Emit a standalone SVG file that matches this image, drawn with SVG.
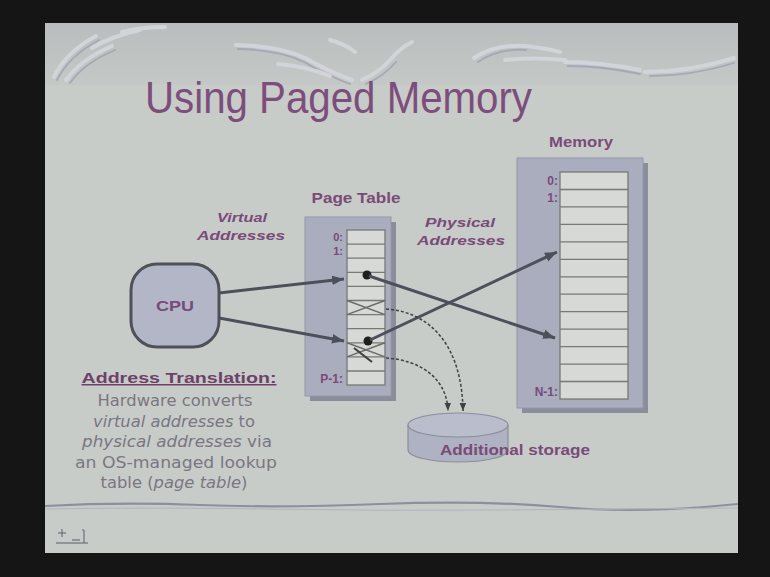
<svg xmlns="http://www.w3.org/2000/svg" width="770" height="577" viewBox="0 0 770 577">
<defs>
<style>
.lbl{font-family:"Liberation Sans",Arial,sans-serif;font-weight:bold;fill:#7a4a78}
.it{font-style:italic}
.body{font-family:"DejaVu Sans","Liberation Sans",sans-serif;font-size:15px;fill:#7a7682}
.cell{fill:#d6d9d6;stroke:#757a74;stroke-width:1.3}
.row{stroke:#757a74;stroke-width:1.3}
.box{fill:#a9adbe;stroke:#9498a8;stroke-width:1}
.shadow{fill:#8a8e9a}
.conn{stroke:#4c505a;stroke-width:3;fill:none}
.dash{stroke:#3e423e;stroke-width:1.5;fill:none;stroke-dasharray:3 2}
.xx{stroke:#686c66;stroke-width:1.5}
.sw{fill:none;stroke:#d2d4d9;stroke-width:4;stroke-linecap:round}
.swd{fill:none;stroke:#a6a9b5;stroke-width:1.8;stroke-linecap:round}
</style>
<marker id="ah" viewBox="0 0 10 8" refX="10" refY="4" markerWidth="12" markerHeight="10" markerUnits="userSpaceOnUse" orient="auto">
<path d="M0,0 L10,4 L0,8 z" fill="#4c505a"/>
</marker>
<marker id="ahs" viewBox="0 0 10 8" refX="10" refY="4" markerWidth="8" markerHeight="7" markerUnits="userSpaceOnUse" orient="auto">
<path d="M0,0 L10,4 L0,8 z" fill="#3e423e"/>
</marker>
<linearGradient id="band" x1="0" y1="0" x2="0" y2="1">
<stop offset="0" stop-color="#b9bdbd"/>
<stop offset="1" stop-color="#c4c8c6"/>
</linearGradient>
</defs>

<rect x="0" y="0" width="770" height="577" fill="#151515"/>
<rect x="45" y="23" width="693" height="530" fill="#c8ccc9"/>
<rect x="45" y="23" width="693" height="62" fill="url(#band)"/>

<g id="decor">
<path class="sw" d="M54,77 Q66,52 96,36"/>
<path class="swd" d="M57,80 Q69,56 99,40"/>
<path class="sw" d="M66,80 Q80,60 112,46"/>
<path class="swd" d="M70,83 Q84,63 115,50"/>
<path class="sw" d="M92,48 Q112,36 140,30"/>
<path class="sw" d="M122,32 Q142,27 165,27"/>
<path class="sw" d="M236,45 Q280,46 305,58 Q330,72 352,80"/>
<path class="swd" d="M238,49 Q280,50 304,62 Q328,76 350,84"/>
<path class="sw" d="M278,64 Q305,66 330,76"/>
<path class="sw" d="M362,80 Q380,72 392,58 Q400,48 412,42"/>
<path class="swd" d="M366,84 Q384,76 396,62"/>
<path class="sw" d="M330,40 Q345,44 355,52"/>
<path class="sw" d="M474,58 Q495,44 525,46 Q545,48 560,52"/>
<path class="swd" d="M478,62 Q498,48 526,50"/>
<path class="sw" d="M505,60 Q535,57 565,60"/>
<path class="sw" d="M565,62 Q600,62 640,70"/>
<path class="swd" d="M568,66 Q602,66 640,74"/>
<path class="sw" d="M645,72 Q690,72 734,58"/>
<path class="swd" d="M650,76 Q692,76 734,63"/>
<path d="M45,506 Q120,502 200,505 T380,504 T560,507 T738,504" fill="none" stroke="#8c909c" stroke-width="2.2"/>
<path d="M45,509 Q140,507 260,509 T500,510 T738,508" fill="none" stroke="#b0b4bc" stroke-width="1"/>
</g>

<g id="nav-icon" stroke="#6a6e7a" stroke-width="1.2" fill="none">
<line x1="58" y1="533" x2="66" y2="533"/>
<line x1="62" y1="529" x2="62" y2="537"/>
<line x1="56" y1="543" x2="88" y2="543"/>
<line x1="82" y1="530" x2="84" y2="530"/>
<line x1="84" y1="530" x2="84" y2="543"/>
<line x1="72" y1="540" x2="80" y2="540"/>
</g>

<text id="title" x="145" y="113" font-family="'Liberation Sans',Arial,sans-serif" font-size="44" fill="#7d4e7b" textLength="387" lengthAdjust="spacingAndGlyphs">Using Paged Memory</text>

<g id="cpu">
<rect x="131" y="264" width="88" height="83" rx="26" ry="26" fill="#b2b6c6" stroke="#4e5258" stroke-width="3"/>
<text class="lbl" x="175" y="311" font-size="14" text-anchor="middle" textLength="38" lengthAdjust="spacingAndGlyphs">CPU</text>
</g>

<g id="page-table">
<rect class="shadow" x="310" y="222" width="86" height="179"/>
<rect class="box" x="305" y="217" width="86" height="179"/>
<rect class="cell" x="347" y="230" width="38" height="155"/>
<g class="row">
<line x1="347" y1="244.1" x2="385" y2="244.1"/>
<line x1="347" y1="258.2" x2="385" y2="258.2"/>
<line x1="347" y1="272.3" x2="385" y2="272.3"/>
<line x1="347" y1="286.4" x2="385" y2="286.4"/>
<line x1="347" y1="300.5" x2="385" y2="300.5"/>
<line x1="347" y1="314.6" x2="385" y2="314.6"/>
<line x1="347" y1="328.7" x2="385" y2="328.7"/>
<line x1="347" y1="342.8" x2="385" y2="342.8"/>
<line x1="347" y1="356.9" x2="385" y2="356.9"/>
<line x1="347" y1="371" x2="385" y2="371"/>
</g>
<g class="xx">
<line x1="347" y1="300.5" x2="385" y2="314.6"/>
<line x1="347" y1="314.6" x2="385" y2="300.5"/>
<line x1="347" y1="342.8" x2="385" y2="356.9"/>
<line x1="347" y1="356.9" x2="385" y2="342.8"/>
</g>
<line x1="354" y1="348" x2="372" y2="362" stroke="#3e423e" stroke-width="2.2"/>
<circle cx="367" cy="275" r="4.5" fill="#1e201e"/>
<circle cx="368" cy="341" r="4.5" fill="#1e201e"/>
<text class="lbl" x="356" y="203" font-size="14" text-anchor="middle" textLength="89" lengthAdjust="spacingAndGlyphs">Page Table</text>
<text class="lbl" x="343" y="241" font-size="11" text-anchor="end">0:</text>
<text class="lbl" x="343" y="255" font-size="11" text-anchor="end">1:</text>
<text class="lbl" x="343" y="383" font-size="12" text-anchor="end">P-1:</text>
</g>

<g id="memory">
<rect class="shadow" x="522" y="163" width="126" height="250"/>
<rect class="box" x="517" y="158" width="126" height="250"/>
<rect class="cell" x="560" y="172" width="68" height="227"/>
<g class="row">
<line x1="560" y1="189.5" x2="628" y2="189.5"/>
<line x1="560" y1="206.9" x2="628" y2="206.9"/>
<line x1="560" y1="224.4" x2="628" y2="224.4"/>
<line x1="560" y1="241.8" x2="628" y2="241.8"/>
<line x1="560" y1="259.3" x2="628" y2="259.3"/>
<line x1="560" y1="276.8" x2="628" y2="276.8"/>
<line x1="560" y1="294.2" x2="628" y2="294.2"/>
<line x1="560" y1="311.7" x2="628" y2="311.7"/>
<line x1="560" y1="329.1" x2="628" y2="329.1"/>
<line x1="560" y1="346.6" x2="628" y2="346.6"/>
<line x1="560" y1="364.1" x2="628" y2="364.1"/>
<line x1="560" y1="381.5" x2="628" y2="381.5"/>
</g>
<text class="lbl" x="581" y="147" font-size="14" text-anchor="middle" textLength="64" lengthAdjust="spacingAndGlyphs">Memory</text>
<text class="lbl" x="558" y="185" font-size="12" text-anchor="end">0:</text>
<text class="lbl" x="558" y="202" font-size="12" text-anchor="end">1:</text>
<text class="lbl" x="558" y="396" font-size="12" text-anchor="end">N-1:</text>
</g>

<g id="storage">
<path d="M408,425 L408,450 A50,12 0 0 0 508,450 L508,425" fill="#aeb2c2" stroke="#8a8e9a" stroke-width="1.2"/>
<ellipse cx="458" cy="425" rx="50" ry="12" fill="#b9bdcc" stroke="#8a8e9a" stroke-width="1.2"/>
<text class="lbl" x="440" y="455" font-size="15" fill="#6c4a70" textLength="150" lengthAdjust="spacingAndGlyphs">Additional storage</text>
</g>

<g id="labels">
<text class="lbl it" x="242" y="222" font-size="13" text-anchor="middle" textLength="50" lengthAdjust="spacingAndGlyphs">Virtual</text>
<text class="lbl it" x="241" y="240" font-size="13" text-anchor="middle" textLength="88" lengthAdjust="spacingAndGlyphs">Addresses</text>
<text class="lbl it" x="460" y="227" font-size="13" text-anchor="middle" textLength="70" lengthAdjust="spacingAndGlyphs">Physical</text>
<text class="lbl it" x="461" y="245" font-size="13" text-anchor="middle" textLength="88" lengthAdjust="spacingAndGlyphs">Addresses</text>
</g>

<g id="address-translation">
<text x="179" y="383" font-family="'Liberation Sans',Arial,sans-serif" font-weight="bold" font-size="15" fill="#6e4068" text-anchor="middle" text-decoration="underline" textLength="195" lengthAdjust="spacingAndGlyphs">Address Translation:</text>
<text class="body" x="175" y="406" text-anchor="middle" textLength="155" lengthAdjust="spacingAndGlyphs">Hardware converts</text>
<text class="body" x="174" y="427" text-anchor="middle" textLength="162" lengthAdjust="spacingAndGlyphs"><tspan font-style="italic">virtual addresses</tspan> to</text>
<text class="body" x="177" y="447" text-anchor="middle" textLength="190" lengthAdjust="spacingAndGlyphs"><tspan font-style="italic">physical addresses</tspan> via</text>
<text class="body" x="176" y="468" text-anchor="middle" textLength="202" lengthAdjust="spacingAndGlyphs">an OS-managed lookup</text>
<text class="body" x="174" y="488" text-anchor="middle" textLength="147" lengthAdjust="spacingAndGlyphs">table (<tspan font-style="italic">page table</tspan>)</text>
</g>

<g id="connectors">
<line class="conn" x1="219" y1="293" x2="344" y2="279" marker-end="url(#ah)"/>
<line class="conn" x1="219" y1="318" x2="344" y2="341" marker-end="url(#ah)"/>
<line class="conn" x1="369" y1="276" x2="555" y2="338" marker-end="url(#ah)"/>
<line class="conn" x1="370" y1="340" x2="557" y2="252" marker-end="url(#ah)"/>
<path class="dash" d="M386,309 C430,312 462,345 463,411" marker-end="url(#ahs)"/>
<path class="dash" d="M386,358 C420,360 447,378 448,411" marker-end="url(#ahs)"/>
</g>
</svg>
